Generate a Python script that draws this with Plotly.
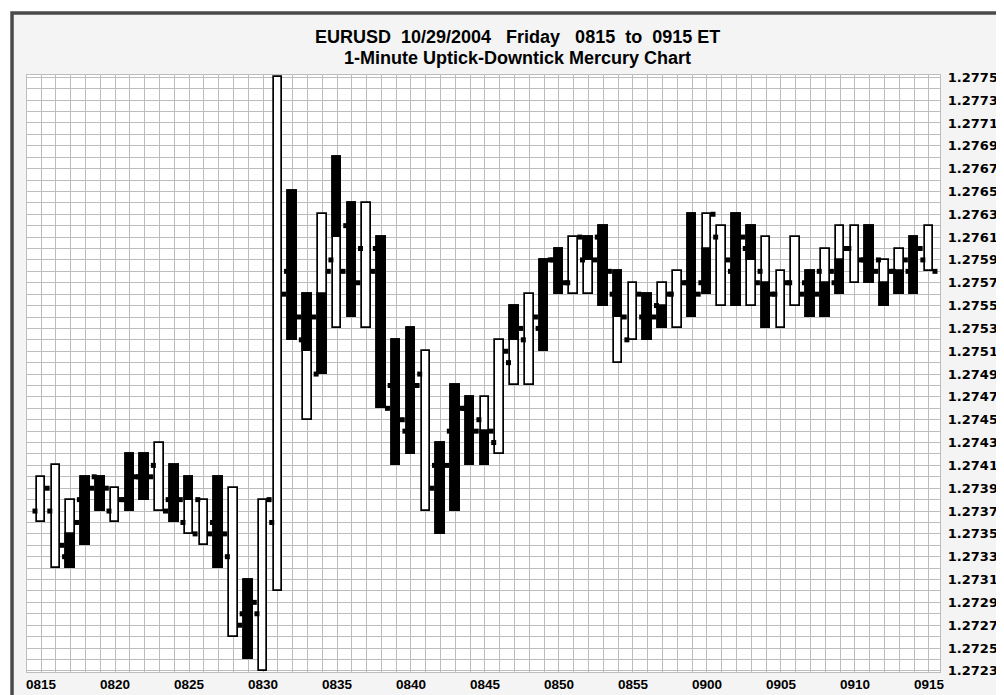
import plotly.graph_objects as go

# ---- data (price in pips above 1.2700) ----
times = ["0815","0816","0817","0818","0819","0820","0821","0822","0823","0824",
         "0825","0826","0827","0828","0829","0830","0831","0832","0833","0834",
         "0835","0836","0837","0838","0839","0840","0841","0842","0843","0844",
         "0845","0846","0847","0848","0849","0850","0851","0852","0853","0854",
         "0855","0856","0857","0858","0859","0900","0901","0902","0903","0904",
         "0905","0906","0907","0908","0909","0910","0911","0912","0913","0914","0915"]
low_p  = [36,32,32,34,37,36,37,38,37,36, 35,34,32,26,24,23,30,52,45,49,
          53,54,53,46,41,42,37,35,37,41, 41,42,48,48,51,56,56,56,55,50,
          52,52,53,53,54,56,55,55,55,53, 53,55,54,54,56,57,57,55,56,56,58]
high_p = [40,41,38,40,40,39,42,42,43,41, 40,38,40,39,31,38,75,65,56,63,
          68,64,64,61,52,53,51,43,48,47, 47,52,55,56,59,60,61,61,62,58,
          57,56,57,58,63,63,62,63,62,61, 58,61,58,60,62,62,62,59,60,61,62]
# black (downtick) segment of each bar, None = no black part
black_lo = [None,None,32,34,37,None,37,38,None,36, 38,None,32,None,24,None,None,52,51,49,
            61,54,None,46,41,42,None,35,37,41, 41,None,52,None,51,56,None,59,55,54,
            None,52,53,None,54,56,None,55,59,53, None,None,54,54,56,None,57,55,56,56,None]
black_hi = [None,None,35,40,40,None,42,42,None,41, 40,None,40,None,31,None,None,65,56,56,
            68,64,None,61,52,53,None,43,48,47, 44,None,55,None,59,60,None,61,62,58,
            None,56,55,None,63,60,None,63,62,57, None,None,58,57,59,None,62,57,58,61,None]
open_p  = [37,37,33,38,40,37,38,40,41,38, 36,38,36,33,28,28,36,58,52,49,
           59,62,60,60,48,44,49,41,44,46, 45,43,50,52,53,59,57,59,61,56,
           52,54,55,56,57,57,61,58,60,58, 56,57,57,58,57,60,59,59,58,58,59]
close_p = [39,34,36,39,39,38,40,40,37,38, 35,35,35,27,29,38,56,54,54,58,
           58,57,58,46,45,48,39,41,46,44, 44,51,53,54,59,57,61,59,58,54,
           56,54,56,57,56,63,59,61,57,56, 57,56,56,58,60,59,58,58,59,60,58]
tick_labels = ["0815","0820","0825","0830","0835","0840","0845","0850","0855","0900","0905","0910","0915"]

BASE = 1.27
PIP = 0.0001
def price(p):
    return None if p is None else round(BASE + p * PIP, 5)

idx = list(range(len(times)))
low = [price(v) for v in low_p]
high = [price(v) for v in high_p]
blo = [price(v) for v in black_lo]
bhi = [price(v) for v in black_hi]
opn = [price(v) for v in open_p]
cls = [price(v) for v in close_p]

BAR_W = 0.58
DOT_OFF = 0.41
GRID = "#bdbdbd"

fig = go.Figure()
fig.add_trace(go.Bar(
    x=idx, y=[h - l for h, l in zip(high, low)], base=low, width=BAR_W,
    marker=dict(color="white", line=dict(color="black", width=1.7)),
    hoverinfo="skip", showlegend=False))
fig.add_trace(go.Bar(
    x=idx, y=[(h - l) if h is not None else None for h, l in zip(bhi, blo)], base=blo, width=BAR_W,
    marker=dict(color="black", line=dict(color="black", width=1.7)),
    hoverinfo="skip", showlegend=False))
fig.add_trace(go.Scatter(
    x=[i - DOT_OFF for i in idx], y=opn, mode="markers",
    marker=dict(symbol="square", size=5, color="black", line=dict(width=0)),
    hoverinfo="skip", showlegend=False))
fig.add_trace(go.Scatter(
    x=[i + DOT_OFF for i in idx], y=cls, mode="markers",
    marker=dict(symbol="square", size=5, color="black", line=dict(width=0)),
    hoverinfo="skip", showlegend=False))

# page body has an 8px margin, so the figure is 996x687 placed at (8, 8)
fig.update_layout(
    template="none",
    width=996, height=687,
    margin=dict(l=19, r=64, t=67, b=23, autoexpand=False),
    paper_bgcolor="white", plot_bgcolor="white",
    barmode="overlay", bargap=0,
    showlegend=False,
    font=dict(family="Liberation Sans, Arial, sans-serif", color="black"),
)
fig.update_xaxes(
    range=[-0.95, 60.75], automargin=False,
    tickmode="array", tickvals=[i * 5 for i in range(len(tick_labels))], ticktext=tick_labels,
    tickfont=dict(family="Liberation Sans, Arial, sans-serif", size=13.5, color="black", weight="bold"),
    ticks="", showgrid=True, gridcolor=GRID, gridwidth=1.4, zeroline=False,
    minor=dict(tick0=0, dtick=1, showgrid=True, gridcolor=GRID, gridwidth=1.4, ticks=""),
    showline=True, linecolor=GRID, linewidth=1.4, mirror=True, ticklabelstandoff=0,
)
fig.update_yaxes(
    range=[1.27229, 1.27752], side="right", automargin=False,
    tickmode="linear", tick0=1.2723, dtick=0.0002, tickformat=".4f",
    tickfont=dict(family="DejaVu Sans, sans-serif", size=13, color="black", weight="bold"),
    ticks="", showgrid=True, gridcolor=GRID, gridwidth=1.4, zeroline=False,
    minor=dict(tick0=1.2722, dtick=0.0001, showgrid=True, gridcolor=GRID, gridwidth=1.4, ticks=""),
    showline=True, linecolor=GRID, linewidth=1.4, mirror=True, ticklabelstandoff=4,
)

title_font = dict(family="Liberation Sans Narrow, Arial Narrow, Liberation Sans, sans-serif", size=18, color="black")
fig.add_annotation(x=0.537, y=1.0637, xref="paper", yref="paper", showarrow=False,
                   text="<b>EURUSD\u00a0\u00a010/29/2004\u00a0\u00a0\u00a0Friday\u00a0\u00a0\u00a00815\u00a0\u00a0to\u00a0\u00a00915 ET</b>",
                   font=title_font, xanchor="center", yanchor="middle")
fig.add_annotation(x=0.537, y=1.0285, xref="paper", yref="paper", showarrow=False,
                   text="<b>1-Minute Uptick-Downtick Mercury Chart</b>",
                   font=title_font, xanchor="center", yanchor="middle")

# window frame (light grey panel with dark border), plot area kept white
fig.add_shape(type="rect", xref="paper", yref="paper", x0=-0.0164, x1=1.2, y0=-0.2, y1=1.1039,
              line=dict(color="#4a4a4a", width=3.5), fillcolor="#f4f4f4", layer="below")
fig.add_shape(type="rect", xref="paper", yref="paper", x0=0, x1=1, y0=0, y1=1,
              line=dict(width=0), fillcolor="white", layer="below")

fig.write_html("out.html")
